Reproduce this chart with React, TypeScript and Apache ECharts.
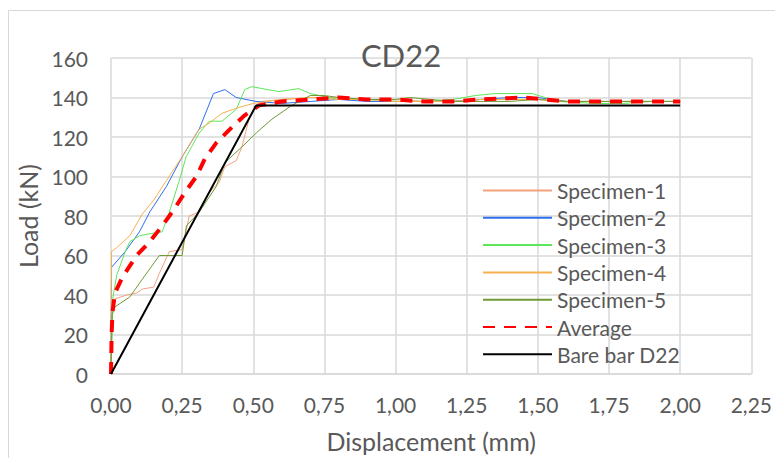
import React, { useEffect, useRef } from "react";
import * as echarts from "echarts";

const xTicks = ["0,00", "0,25", "0,50", "0,75", "1,00", "1,25", "1,50", "1,75", "2,00", "2,25"];

const spec1Disp = [0, 0.003, 0.014, 0.055, 0.09, 0.11, 0.15, 0.17, 0.205, 0.25, 0.275, 0.31, 0.345, 0.38, 0.4, 0.44, 0.46, 0.485, 0.5, 0.53, 0.6, 0.7, 0.8, 0.9, 1.0, 1.1, 1.2, 1.3, 1.4, 1.5, 1.6, 1.7, 1.8, 1.9, 2.0];
const spec1Load = [0, 33, 38, 40, 41, 43, 44, 51, 62, 63, 80, 82, 92, 97, 105, 108, 115, 129, 134, 138, 139, 140, 140, 139, 139, 138, 138, 139, 139, 139, 138, 138, 138, 138, 138];

const spec2Disp = [0, 0.002, 0.05, 0.1, 0.136, 0.195, 0.25, 0.31, 0.36, 0.4, 0.44, 0.51, 0.6, 0.7, 0.8, 0.9, 1.0, 1.1, 1.2, 1.3, 1.4, 1.5, 1.6, 1.7, 1.8, 1.9, 2.0];
const spec2Load = [0, 54, 62, 72, 82, 95, 110, 124, 142, 144, 140, 138, 137, 138, 139, 138, 138, 138, 138, 139, 140, 140, 138, 138, 138, 138, 138];

const spec3Disp = [0, 0.007, 0.02, 0.05, 0.066, 0.1, 0.136, 0.18, 0.205, 0.24, 0.264, 0.31, 0.345, 0.39, 0.44, 0.47, 0.495, 0.55, 0.59, 0.66, 0.7, 0.8, 0.9, 1.0, 1.1, 1.2, 1.28, 1.35, 1.42, 1.48, 1.57, 1.7, 1.8, 1.9, 2.0];
const spec3Load = [0, 39, 50, 62, 67, 70, 71, 72, 82, 98, 110, 122, 128, 128, 134, 144, 145.5, 144, 143, 144.5, 142, 139, 139, 138, 138, 139, 141, 142, 142, 142, 138, 137, 137, 138, 138];

const spec4Disp = [0, 0.002, 0.02, 0.066, 0.11, 0.15, 0.195, 0.25, 0.31, 0.345, 0.39, 0.45, 0.5, 0.6, 0.7, 0.8, 0.9, 1.0, 1.1, 1.2, 1.3, 1.4, 1.5, 1.6, 1.7, 1.8, 1.9, 2.0];
const spec4Load = [0, 62, 64, 70, 81, 88, 98, 110, 124, 127, 132, 135, 137, 139, 140, 139, 139, 138, 138, 138, 139, 139, 139, 138, 138, 138, 138, 138];

const spec5Disp = [0, 0.004, 0.014, 0.066, 0.11, 0.17, 0.25, 0.265, 0.31, 0.37, 0.4, 0.46, 0.51, 0.565, 0.635, 0.7, 0.75, 0.8, 0.9, 1.0, 1.05, 1.2, 1.3, 1.4, 1.5, 1.6, 1.7, 1.8, 1.9, 2.0];
const spec5Load = [0, 30, 34, 39, 48, 60, 60, 75, 82, 95, 107, 115, 122, 129, 136, 141, 141, 140, 139, 139, 140, 138, 138, 138, 139, 138, 138, 138, 138, 138];

const avgDisp = [0, 0.002, 0.005, 0.014, 0.04, 0.09, 0.136, 0.18, 0.22, 0.26, 0.3, 0.33, 0.37, 0.425, 0.47, 0.52, 0.6, 0.7, 0.8, 0.9, 1.0, 1.1, 1.2, 1.3, 1.45, 1.6, 1.75, 1.9, 2.0];
const avgLoad = [0, 19, 31, 41, 49, 60, 67, 75, 83, 92, 100, 109, 117, 125, 131, 136, 138, 139, 140, 139, 139, 138, 138, 139, 140, 138, 138, 138, 138];

const bareDisp = [0, 0.51, 2.0];
const bareLoad = [0, 136, 136];

const seriesNames = ["Specimen-1", "Specimen-2", "Specimen-3", "Specimen-4", "Specimen-5", "Average", "Bare bar D22"];

const pairs = (xs: number[], ys: number[]) => xs.map((x, i) => [x, ys[i]]);

const FONT = "Lato";
const TXT = "#595959";
const GRID = "#D9D9D9";

export default function App() {
  const ref = useRef<HTMLDivElement>(null);
  useEffect(() => {
    if (!ref.current) return;
    const chart = echarts.init(ref.current, undefined, { renderer: "svg" });
    const line = (name: string, xs: number[], ys: number[], color: string, width: number, type: any = "solid") => ({
      name,
      type: "line",
      data: pairs(xs, ys),
      showSymbol: false,
      symbol: "none",
      lineStyle: { color, width, type },
      itemStyle: { color },
      z: 2,
    });
    chart.setOption({
      animation: false,
      textStyle: { fontFamily: FONT },
      title: {
        text: "CD22",
        left: 396,
        top: 34,
        textAlign: "center",
        textStyle: { fontFamily: FONT, fontSize: 31, fontWeight: "normal", color: TXT },
      },
      graphic: [
        {
          type: "rect",
          shape: { x: 8.5, y: 10.5, width: 800, height: 500 },
          style: { fill: "none", stroke: GRID, lineWidth: 1 },
          silent: true,
        },
      ],
      grid: { left: 111, right: 18, top: 58, bottom: 83, containLabel: false },
      legend: {
        left: 477,
        top: 175,
        orient: "vertical",
        itemWidth: 69,
        itemHeight: 14,
        itemGap: 6.3,
        data: seriesNames,
        itemStyle: { opacity: 0 },
        textStyle: { fontFamily: FONT, fontSize: 21, color: TXT, lineHeight: 20, padding: [0, 0, 0, 0] },
      },
      xAxis: {
        type: "value",
        min: 0,
        max: 2.25,
        interval: 0.25,
        axisLine: { show: true, lineStyle: { color: GRID, width: 1.5 } },
        axisTick: { show: false },
        splitLine: { show: true, lineStyle: { color: GRID, width: 1.5 } },
        axisLabel: {
          fontFamily: FONT,
          fontSize: 21,
          color: TXT,
          margin: 20,
          formatter: (v: number) => xTicks[Math.round(v / 0.25)] ?? v.toFixed(2).replace(".", ","),
        },
        name: "Displacement (mm)",
        nameLocation: "middle",
        nameGap: 54,
        nameTextStyle: { fontFamily: FONT, fontSize: 25, color: TXT },
      },
      yAxis: {
        type: "value",
        min: 0,
        max: 160,
        interval: 20,
        axisLine: { show: false },
        axisTick: { show: false },
        splitLine: { show: true, lineStyle: { color: GRID, width: 1.5 } },
        axisLabel: { fontFamily: FONT, fontSize: 21, color: TXT, margin: 23 },
        name: "Load (kN)",
        nameLocation: "middle",
        nameGap: 69,
        nameTextStyle: { fontFamily: FONT, fontSize: 25, color: TXT },
      },
      series: [
        line(seriesNames[0], spec1Disp, spec1Load, "#F4A27C", 1),
        line(seriesNames[1], spec2Disp, spec2Load, "#2E6EEF", 1),
        line(seriesNames[2], spec3Disp, spec3Load, "#5EE65A", 1),
        line(seriesNames[3], spec4Disp, spec4Load, "#F6B04E", 1),
        line(seriesNames[4], spec5Disp, spec5Load, "#6F9A35", 1),
        line(seriesNames[5], avgDisp, avgLoad, "#FF0000", 4, [12, 9]),
        line(seriesNames[6], bareDisp, bareLoad, "#000000", 2),
      ],
    });
    return () => chart.dispose();
  }, []);
  return <div ref={ref} style={{ position: "absolute", left: 0, top: 0, width: 775, height: 458 }} />;
}
